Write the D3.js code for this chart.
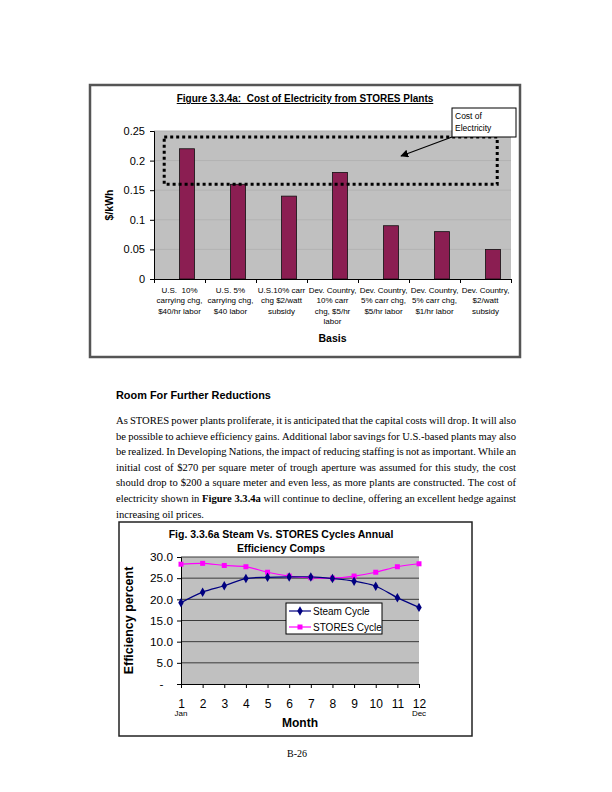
<!DOCTYPE html>
<html>
<head>
<meta charset="utf-8">
<script src="https://cdn.jsdelivr.net/npm/d3@7"></script>
<style>
  html, body { margin: 0; padding: 0; background: #fff; }
  svg { display: block; }
  text { font-family: "Liberation Sans", Arial, sans-serif; }
  .serif { font-family: "Liberation Serif", "Times New Roman", serif; }
</style>
</head>
<body>
<svg id="page" width="612" height="792"></svg>
<script>
// ---------- DATA ----------
const costCategories = [
  ["U.S.  10%", "carrying chg,", "$40/hr labor"],
  ["U.S. 5%", "carrying chg,", "$40 labor"],
  ["U.S.10% carr", "chg $2/watt", "subsidy"],
  ["Dev. Country,", "10% carr", "chg, $5/hr", "labor"],
  ["Dev. Country,", "5% carr chg,", "$5/hr labor"],
  ["Dev. Country,", "5% carr chg,", "$1/hr labor"],
  ["Dev. Country,", "$2/watt", "subsidy"]
];
const costValues = [0.22, 0.16, 0.14, 0.18, 0.09, 0.08, 0.05];
const costTicks = [0, 0.05, 0.1, 0.15, 0.2, 0.25];

const months = [1, 2, 3, 4, 5, 6, 7, 8, 9, 10, 11, 12];
const steamCycle  = [19.2, 21.7, 23.2, 24.9, 25.2, 25.3, 25.3, 24.9, 24.3, 23.1, 20.4, 18.1];
const storesCycle = [28.3, 28.5, 28.0, 27.7, 26.4, 25.5, 25.1, 25.0, 25.5, 26.4, 27.7, 28.4];
const effTicks = [0, 5, 10, 15, 20, 25, 30];
const seriesNames = ["Steam Cycle", "STORES Cycle"];

const paragraph = [
  "As STORES power plants proliferate, it is anticipated that the capital costs will drop. It will also",
  "be possible to achieve efficiency gains. Additional labor savings for U.S.-based plants may also",
  "be realized. In Developing Nations, the impact of reducing staffing is not as important. While an",
  "initial cost of $270 per square meter of trough aperture was assumed for this study, the cost",
  "should drop to $200 a square meter and even less, as more plants are constructed. The cost of",
  "electricity shown in **Figure 3.3.4a** will continue to decline, offering an excellent hedge against",
  "increasing oil prices."
];

// ---------- PAGE ----------
const svg = d3.select("#page");
svg.append("rect").attr("width", 612).attr("height", 792).attr("fill", "#fff");

// ================= CHART 1 =================
const c1 = svg.append("g");
c1.append("rect").attr("x", 90).attr("y", 85).attr("width", 430).attr("height", 272)
  .attr("fill", "#fff").attr("stroke", "#555").attr("stroke-width", 2.5);

c1.append("text").attr("x", 305).attr("y", 102).attr("text-anchor", "middle")
  .attr("font-size", 10).attr("font-weight", "bold").attr("text-decoration", "underline")
  .style("white-space", "pre")
  .text("Figure 3.3.4a:  Cost of Electricity from STORES Plants");

const p1 = { l: 154, r: 511, t: 131, b: 279 };
const y1 = d3.scaleLinear().domain([0, 0.25]).range([p1.b, p1.t]);
const xb = d3.scaleLinear().domain([0, costValues.length]).range([p1.l, p1.r]);
const x1 = d3.scaleBand().domain(d3.range(costValues.length)).range([p1.l, p1.r]).padding(0);

c1.append("rect").attr("x", p1.l).attr("y", p1.t).attr("width", p1.r - p1.l).attr("height", p1.b - p1.t)
  .attr("fill", "#c0c0c0");
c1.append("g").selectAll("line").data(costTicks.filter(d => d > 0)).join("line")
  .attr("x1", p1.l).attr("x2", p1.r).attr("y1", d => y1(d)).attr("y2", d => y1(d))
  .attr("stroke", "#b2b2b2").attr("stroke-width", 1);

// bars
c1.append("g").selectAll("rect").data(costValues).join("rect")
  .attr("x", (d, i) => x1(i) + x1.bandwidth() * 0.5)
  .attr("width", x1.bandwidth() * 0.295)
  .attr("y", d => y1(d))
  .attr("height", d => y1(0) - y1(d))
  .attr("fill", "#8b1e52").attr("stroke", "#111").attr("stroke-width", 0.8);

// y axis
const ay1 = c1.append("g").attr("transform", `translate(${p1.l},0)`)
  .call(d3.axisLeft(y1).tickValues(costTicks).tickSize(4).tickPadding(5).tickFormat(d => String(d)));
ay1.selectAll("text").attr("font-size", 11).attr("fill", "#000").attr("font-family", "Liberation Sans, Arial, sans-serif");
ay1.selectAll("line,path").attr("stroke", "#000");

// x axis
const ax1 = c1.append("g").attr("transform", `translate(0,${p1.b})`)
  .call(d3.axisBottom(xb).tickValues(d3.range(costValues.length + 1)).tickSize(4).tickFormat(""));
ax1.selectAll("line,path").attr("stroke", "#000");

// category labels
const lab1 = c1.append("g").selectAll("text").data(costCategories).join("text")
  .attr("x", (d, i) => x1(i) + x1.bandwidth() / 2)
  .attr("y", 293).attr("text-anchor", "middle").attr("font-size", 8);
lab1.selectAll("tspan").data(d => d).join("tspan")
  .attr("x", function () { return d3.select(this.parentNode).attr("x"); })
  .attr("dy", (d, i) => i === 0 ? 0 : 10.3)
  .style("white-space", "pre")
  .text(d => d);

c1.append("text").attr("x", (p1.l + p1.r) / 2).attr("y", 342).attr("text-anchor", "middle")
  .attr("font-size", 10.5).attr("font-weight", "bold").text("Basis");
c1.append("text").attr("transform", `translate(113,${(p1.t + p1.b) / 2}) rotate(-90)`)
  .attr("text-anchor", "middle").attr("font-size", 10.5).attr("font-weight", "bold").text("$/kWh");

// dotted annotation box (0.16 - 0.24 $/kWh)
c1.append("rect")
  .attr("x", xb(0.2)).attr("y", y1(0.24))
  .attr("width", xb(6.73) - xb(0.2)).attr("height", y1(0.16) - y1(0.24))
  .attr("fill", "none").attr("stroke", "#000").attr("stroke-width", 3).attr("stroke-dasharray", "3,3");

// callout
svg.append("defs").append("marker").attr("id", "arr").attr("viewBox", "0 0 10 10")
  .attr("refX", 9).attr("refY", 5).attr("markerWidth", 8).attr("markerHeight", 8)
  .attr("markerUnits", "userSpaceOnUse").attr("orient", "auto")
  .append("path").attr("d", "M0,0 L10,5 L0,10 z").attr("fill", "#000");
c1.append("line").attr("x1", 452).attr("y1", 137).attr("x2", 401).attr("y2", 156)
  .attr("stroke", "#000").attr("stroke-width", 1.2).attr("marker-end", "url(#arr)");
c1.append("rect").attr("x", 452).attr("y", 108).attr("width", 64).attr("height", 29)
  .attr("fill", "#fff").attr("stroke", "#000").attr("stroke-width", 1);
c1.append("text").attr("x", 455).attr("y", 119).attr("font-size", 8.5).text("Cost of");
c1.append("text").attr("x", 455).attr("y", 131).attr("font-size", 8.5).text("Electricity");

// ================= TEXT =================
svg.append("text").attr("x", 116).attr("y", 399).attr("font-size", 10.9).attr("font-weight", "bold")
  .text("Room For Further Reductions");

const paraLeft = 116, paraRight = 516, paraTop = 424, lineH = 15.6, fs = 10.6;
paragraph.forEach((line, li) => {
  const tokens = [];
  let bold = false;
  line.split(" ").forEach(w => {
    let b = bold, word = w;
    if (word.startsWith("**")) { word = word.slice(2); b = true; bold = true; }
    if (word.endsWith("**")) { word = word.slice(0, -2); bold = false; }
    tokens.push({ w: word, b });
  });
  const g = svg.append("g");
  const y = paraTop + li * lineH;
  const nodes = tokens.map(t => g.append("text").attr("class", "serif")
    .attr("y", y).attr("font-size", fs).attr("font-weight", t.b ? "bold" : "normal").text(t.w));
  let widths = nodes.map(n => n.node().getComputedTextLength());
  const last = li === paragraph.length - 1;
  const minGap = fs * 0.2;
  let total = d3.sum(widths);
  const avail = paraRight - paraLeft;
  if (!last && total + minGap * (tokens.length - 1) > avail) {
    const k = (avail - minGap * (tokens.length - 1)) / total;
    nodes.forEach((n, i) => { n.attr("textLength", widths[i] * k).attr("lengthAdjust", "spacingAndGlyphs"); });
    widths = widths.map(w => w * k);
    total = d3.sum(widths);
  }
  const gap = last ? fs * 0.25 : (avail - total) / (tokens.length - 1);
  let x = paraLeft;
  nodes.forEach((n, i) => { n.attr("x", x); x += widths[i] + gap; });
});

// ================= CHART 2 =================
const c2 = svg.append("g");
c2.append("rect").attr("x", 119).attr("y", 522).attr("width", 353).attr("height", 214)
  .attr("fill", "#fff").attr("stroke", "#222").attr("stroke-width", 1.5);
c2.append("text").attr("x", 281).attr("y", 538).attr("text-anchor", "middle")
  .attr("font-size", 10.5).attr("font-weight", "bold").text("Fig. 3.3.6a Steam Vs. STORES Cycles Annual");
c2.append("text").attr("x", 281).attr("y", 552).attr("text-anchor", "middle")
  .attr("font-size", 10.5).attr("font-weight", "bold").text("Efficiency Comps");

const p2 = { l: 181, r: 419, t: 557, b: 684 };
const x2 = d3.scaleLinear().domain([1, 12]).range([p2.l, p2.r]);
const y2 = d3.scaleLinear().domain([0, 30]).range([p2.b, p2.t]);

c2.append("rect").attr("x", p2.l).attr("y", p2.t).attr("width", p2.r - p2.l).attr("height", p2.b - p2.t)
  .attr("fill", "#c0c0c0");
c2.append("g").selectAll("line").data(effTicks.filter(d => d > 0)).join("line")
  .attr("x1", p2.l).attr("x2", p2.r).attr("y1", d => y2(d)).attr("y2", d => y2(d))
  .attr("stroke", "#3a3a3a").attr("stroke-width", 1);

const ay2 = c2.append("g").attr("transform", `translate(${p2.l},0)`)
  .call(d3.axisLeft(y2).tickValues(effTicks).tickSize(4).tickPadding(4)
    .tickFormat(d => d === 0 ? "-" : d.toFixed(1)));
ay2.selectAll("text").attr("font-size", 11.8).attr("fill", "#000").attr("font-family", "Liberation Sans, Arial, sans-serif");
ay2.selectAll(".tick").filter(d => d === 0).select("text").attr("dx", -9.5);
ay2.selectAll("line,path").attr("stroke", "#000");

const ax2 = c2.append("g").attr("transform", `translate(0,${p2.b})`)
  .call(d3.axisBottom(x2).tickValues(months).tickSize(4).tickPadding(11).tickFormat(d => String(d)));
ax2.selectAll("text").attr("font-size", 12).attr("fill", "#000").attr("font-family", "Liberation Sans, Arial, sans-serif");
ax2.selectAll("line,path").attr("stroke", "#000");

c2.append("text").attr("x", x2(1)).attr("y", 716).attr("text-anchor", "middle").attr("font-size", 8).text("Jan");
c2.append("text").attr("x", x2(12)).attr("y", 716).attr("text-anchor", "middle").attr("font-size", 8).text("Dec");
c2.append("text").attr("x", 300).attr("y", 727).attr("text-anchor", "middle")
  .attr("font-size", 12).attr("font-weight", "bold").text("Month");
c2.append("text").attr("transform", `translate(133,${(p2.t + p2.b) / 2}) rotate(-90)`)
  .attr("text-anchor", "middle").attr("font-size", 12.5).attr("font-weight", "bold").text("Efficiency percent");

const line2 = d3.line().x((d, i) => x2(months[i])).y(d => y2(d)).curve(d3.curveCatmullRom.alpha(0.5));
c2.append("path").datum(storesCycle).attr("d", line2).attr("fill", "none").attr("stroke", "#ff00ff").attr("stroke-width", 1.2);
c2.append("path").datum(steamCycle).attr("d", line2).attr("fill", "none").attr("stroke", "#000080").attr("stroke-width", 1.2);
c2.append("g").selectAll("rect").data(storesCycle).join("rect")
  .attr("x", (d, i) => x2(months[i]) - 2.5).attr("y", d => y2(d) - 2.5)
  .attr("width", 5).attr("height", 5).attr("fill", "#ff00ff");
c2.append("g").selectAll("path").data(steamCycle).join("path")
  .attr("transform", (d, i) => `translate(${x2(months[i])},${y2(d)})`)
  .attr("d", d3.symbol(d3.symbolDiamond, 26)).attr("fill", "#000080");

// legend
const lg = c2.append("g");
lg.append("rect").attr("x", 286).attr("y", 603).attr("width", 96).attr("height", 31)
  .attr("fill", "#fff").attr("stroke", "#000").attr("stroke-width", 1);
const lColors = ["#000080", "#ff00ff"];
seriesNames.forEach((n, i) => {
  const yy = 611 + i * 16;
  lg.append("line").attr("x1", 289).attr("x2", 311).attr("y1", yy).attr("y2", yy)
    .attr("stroke", lColors[i]).attr("stroke-width", 1.2);
  if (i === 0) {
    lg.append("path").attr("transform", `translate(300,${yy})`).attr("d", d3.symbol(d3.symbolDiamond, 26)).attr("fill", lColors[i]);
  } else {
    lg.append("rect").attr("x", 297.5).attr("y", yy - 2.5).attr("width", 5).attr("height", 5).attr("fill", lColors[i]);
  }
  lg.append("text").attr("x", 313).attr("y", yy + 3.5).attr("font-size", 10).text(n);
});

// page number
svg.append("text").attr("class", "serif").attr("x", 297).attr("y", 757).attr("text-anchor", "middle")
  .attr("font-size", 10).text("B-26");
</script>
</body>
</html>
